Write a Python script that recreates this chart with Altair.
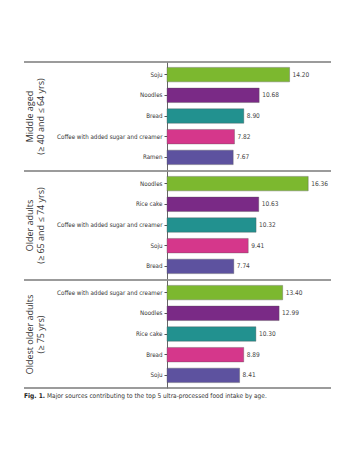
import altair as alt
import pandas as pd

group_labels = [
    ["Middle aged", "(≥ 40 and ≤ 64 yrs)"],
    ["Older adults", "(≥ 65 and ≤ 74 yrs)"],
    ["Oldest older adults", "(≥ 75 yrs)"],
]
foods_mid = ["Soju", "Noodles", "Bread", "Coffee with added sugar and creamer", "Ramen"]
values_mid = [14.20, 10.68, 8.90, 7.82, 7.67]
foods_old = ["Noodles", "Rice cake", "Coffee with added sugar and creamer", "Soju", "Bread"]
values_old = [16.36, 10.63, 10.32, 9.41, 7.74]
foods_oldest = ["Coffee with added sugar and creamer", "Noodles", "Rice cake", "Bread", "Soju"]
values_oldest = [13.40, 12.99, 10.30, 8.89, 8.41]
ranks = [1, 2, 3, 4, 5]
colors = ["#7cb82f", "#7a2a86", "#22918f", "#d5378b", "#5d529f"]

caption_bold = "Fig. 1."
caption_rest = "Major sources contributing to the top 5 ultra-processed food intake by age."

W = 164
H = 108
LABEL_FONT = "DejaVu Sans Condensed, Roboto"
line_color = "#7a7a7a"


def panel(foods, values, label, last):
    df = pd.DataFrame({
        "food": foods,
        "value": values,
        "rank": ranks,
        "txt": [f"{v:.2f}" for v in values],
    })
    base = alt.Chart(df)
    y = alt.Y(
        "food:N",
        sort=foods,
        scale=alt.Scale(paddingInner=0.3, paddingOuter=0.26),
        axis=alt.Axis(
            title=label,
            labelFont=LABEL_FONT,
            labelFontSize=6.2,
            labelColor="#333333",
            labelPadding=2,
            tickColor="#555555",
            tickSize=3,
            domainColor="#666666",
            domainWidth=1,
            titleFont="Open Sans",
            titleFontSize=9,
            titleFontWeight="normal",
            titleColor="#333333",
            titleAngle=-90,
            titleX=-138,
            titleY=H / 2,
            titleAlign="center",
            titleBaseline="middle",
            titleLineHeight=11,
        ),
    )
    x = alt.X("value:Q", scale=alt.Scale(domain=[0, 19]), axis=None)
    bars = base.mark_bar(strokeWidth=0.6, strokeOpacity=0.6).encode(
        y=y,
        x=x,
        color=alt.Color("rank:O", scale=alt.Scale(domain=ranks, range=colors), legend=None),
        stroke=alt.value("#555555"),
    )
    texts = base.mark_text(align="left", dx=3, fontSize=6.5, font=LABEL_FONT, color="#444444").encode(
        y=y, x=x, text="txt:N"
    )
    one = pd.DataFrame({"k": [0]})
    top = alt.Chart(one).mark_rule(color=line_color, strokeWidth=1.5).encode(
        x=alt.value(-143), x2=alt.value(W), y=alt.value(0)
    )
    layers = [bars, texts, top]
    if last:
        bottom = alt.Chart(one).mark_rule(color=line_color, strokeWidth=1.5).encode(
            x=alt.value(-143), x2=alt.value(W), y=alt.value(H)
        )
        cap1 = alt.Chart(one).mark_text(
            align="left", baseline="middle", fontSize=6.6, fontWeight="bold", font=LABEL_FONT, color="#222222"
        ).encode(x=alt.value(-143), y=alt.value(H + 8), text=alt.value(caption_bold))
        cap2 = alt.Chart(one).mark_text(
            align="left", baseline="middle", fontSize=6.5, font=LABEL_FONT, color="#333333"
        ).encode(x=alt.value(-120), y=alt.value(H + 8), text=alt.value(caption_rest))
        layers += [bottom, cap1, cap2]
    return alt.layer(*layers).properties(width=W, height=H)


chart = alt.vconcat(
    panel(foods_mid, values_mid, group_labels[0], False),
    panel(foods_old, values_old, group_labels[1], False),
    panel(foods_oldest, values_oldest, group_labels[2], True),
    spacing=0,
).properties(
    padding={"left": 15, "top": 53, "right": 5, "bottom": 5},
).configure_view(stroke=None).configure_concat(spacing=0)

chart.save("out.html", embed_options={"renderer": "svg", "actions": False})
